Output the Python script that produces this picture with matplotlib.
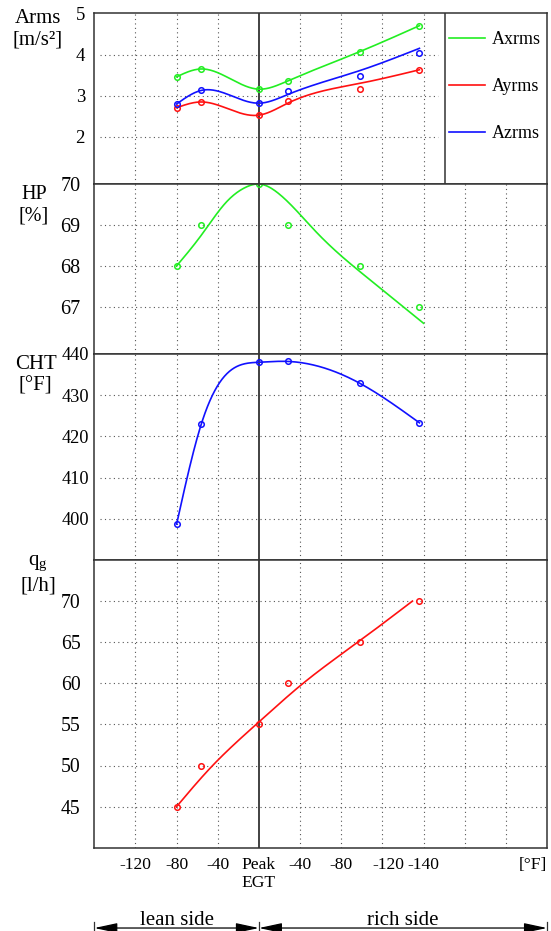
import numpy as np
import matplotlib.pyplot as plt
from matplotlib import transforms

plt.rcParams['font.family'] = ['Liberation Serif', 'DejaVu Serif']
plt.rcParams['mathtext.fontset'] = 'custom'
plt.rcParams['mathtext.rm'] = 'Liberation Serif'

## The Data ..
# positions on the EGT axis (1 = -120 lean ... 4 = peak ... 8 = -140 rich)
x_meas = [2.0, 2.6, 4.0, 4.7, 6.45, 7.9]
x_tick_pos = [1, 2, 3, 4, 5, 6, 7.15, 8]
x_tick_lab = ['-120', '-80', '-40', 'Peak\nEGT', '-40', '-80', '-120', '-140']

# vibration (rms acceleration)
axrms = [3.46, 3.65, 3.16, 3.36, 4.07, 4.70]
ayrms = [2.71, 2.85, 2.53, 2.87, 3.16, 3.63]
azrms = [2.80, 3.13, 2.82, 3.12, 3.49, 4.04]
axrms_fit = [3.46, 3.65, 3.16, 3.36, 4.07, 4.70]
ayrms_fit = [2.71, 2.85, 2.53, 2.82, 3.30, 3.63]
azrms_fit = [2.80, 3.13, 2.82, 3.03, 3.61, 4.15]

# power
hp = [68, 69, 70, 69, 68, 67]
hp_fit_x = [2.0, 2.6, 3.2, 3.7, 4.0, 4.5, 5.4, 6.7, 8.0]
hp_fit = [68.0, 68.75, 69.55, 69.93, 70.0, 69.75, 68.82, 67.66, 66.6]

# cylinder head temperature
cht = [398.7, 423.0, 438.0, 438.2, 432.9, 423.3]

# fuel flow
qg = [45, 50, 55, 60, 65, 70]
qg_fit_x = [2.0, 2.8, 4.0, 5.05, 6.43, 7.73]
qg_fit = [45.0, 49.6, 55.3, 59.9, 65.1, 70.0]


def smooth(xs, ys, n=300):
    # natural cubic spline drawn through the read-off curve values
    xs = np.asarray(xs, float)
    ys = np.asarray(ys, float)
    k = len(xs)
    h = np.diff(xs)
    A = np.zeros((k, k))
    b = np.zeros(k)
    A[0, 0] = A[-1, -1] = 1
    for i in range(1, k - 1):
        A[i, i - 1] = h[i - 1]
        A[i, i] = 2 * (h[i - 1] + h[i])
        A[i, i + 1] = h[i]
        b[i] = 3 * ((ys[i + 1] - ys[i]) / h[i] - (ys[i] - ys[i - 1]) / h[i - 1])
    c = np.linalg.solve(A, b)
    xx = np.linspace(xs[0], xs[-1], n)
    idx = np.clip(np.searchsorted(xs, xx) - 1, 0, k - 2)
    dx = xx - xs[idx]
    bb = (ys[idx + 1] - ys[idx]) / h[idx] - h[idx] * (2 * c[idx] + c[idx + 1]) / 3
    d = (c[idx + 1] - c[idx]) / (3 * h[idx])
    return xx, ys[idx] + bb * dx + c[idx] * dx ** 2 + d * dx ** 3


GREEN = '#22ee22'
RED = '#ff1111'
BLUE = '#1111ff'
DARK = '#333333'
DOT = (0, (1, 3))

W, H = 551, 931
fig = plt.figure(figsize=(W / 100, H / 100), dpi=100)


def panel(top, bottom):
    return fig.add_axes([94.3 / W, 1 - bottom / H, (547 - 94.3) / W, (bottom - top) / H])


ax0 = panel(13.3, 184)
ax1 = panel(184, 354)
ax2 = panel(354, 560)
ax3 = panel(560, 847.7)

specs = [
    (ax0, (0.86, 5), [2, 3, 4, 5], 13.5, 6.7, 'Arms\n[m/s²]', 37.5, 16, 15),
    (ax1, (65.85, 70), [67, 68, 69, 70], 14.5, 9.8, 'HP\n[%]', 34, 21.5, 14.5),
    (ax2, (390, 440), [400, 410, 420, 430, 440], 13.2, 3.6, 'CHT\n[°F]', 35.6, 21.5, 15),
    (ax3, (40, 75), [45, 50, 55, 60, 65, 70], 14.2, 9.8, 'q$_{\\mathrm{g}}$\n[l/h]', 38, 14.5, 15),
]

for ax, ylim, yt, tfs, tpad, lab, lx, ly, lfs in specs:
    ax.set_xlim(0, 11)
    ax.set_ylim(*ylim)
    ax.set_yticks(yt)
    ax.tick_params(axis='y', length=0, pad=tpad, labelsize=tfs)
    ax.tick_params(axis='x', length=0)
    for s in ax.spines.values():
        s.set_color(DARK)
        s.set_linewidth(1.1)
    top_panel = ax is ax0
    xmax = 8.35 if top_panel else 11
    vx = [v for v in range(1, 9 if top_panel else 11) if v != 4]
    ax.vlines(vx, ylim[0], ylim[1], colors='#555555', linestyles=DOT, linewidth=0.8)
    ax.hlines([v for v in yt if v < ylim[1]], 0.15, xmax, colors='#555555',
              linestyles=DOT, linewidth=0.8)
    ax.axvline(4, color=DARK, linewidth=1.3, zorder=1)
    ax.annotate(lab, xy=(0, 1), xycoords='axes fraction',
                xytext=(-(94.3 - lx) * 0.72, -ly * 0.72), textcoords='offset points',
                ha='center', va='center', fontsize=lfs, linespacing=1.2)

for ax in (ax0, ax1, ax2):
    ax.set_xticks([])

## First panel: vibration
ax0.axvline(8.51, color=DARK, linewidth=1.1)
lines = []
for vals, fit, col, name in [(axrms, axrms_fit, GREEN, 'Axrms'),
                             (ayrms, ayrms_fit, RED, 'Ayrms'),
                             (azrms, azrms_fit, BLUE, 'Azrms')]:
    xx, yy = smooth(x_meas, fit)
    ln, = ax0.plot(xx, yy, color=col, linewidth=1.2, label=name)
    ax0.plot(x_meas, vals, 'o', color=col, mfc='none', ms=4, mew=1.1)
    lines.append(ln)
ax0.legend(handles=lines, loc='upper left', bbox_to_anchor=(0.7835, 0.8946),
           frameon=False, borderpad=0, borderaxespad=0, handlelength=2.0,
           handletextpad=0.4, labelspacing=1.65, fontsize=13)

## Second panel: power
xx, yy = smooth(hp_fit_x, hp_fit)
ax1.plot(xx, yy, color=GREEN, linewidth=1.2)
ax1.plot(x_meas, hp, 'o', color=GREEN, mfc='none', ms=4, mew=1.1)

## Third panel: CHT
xx, yy = smooth(x_meas, cht)
ax2.plot(xx, yy, color=BLUE, linewidth=1.2)
ax2.plot(x_meas, cht, 'o', color=BLUE, mfc='none', ms=4, mew=1.1)

## Fourth panel: fuel flow
xx, yy = smooth(qg_fit_x, qg_fit)
ax3.plot(xx, yy, color=RED, linewidth=1.2)
ax3.plot(x_meas, qg, 'o', color=RED, mfc='none', ms=4, mew=1.1)

ax3.set_xticks(x_tick_pos)
ax3.set_xticklabels(x_tick_lab, fontsize=12.6, linespacing=1.2)
ax3.tick_params(axis='x', pad=6.5)
ax3.annotate('[°F]', xy=(1, 0), xycoords='axes fraction', xytext=(0, -6.5),
             textcoords='offset points', ha='right', va='top', fontsize=12.6)

## lean / rich side arrows
trans = transforms.blended_transform_factory(ax3.transData, fig.transFigure)
for x0, x1, txt in [(0, 4, 'lean side'), (4, 11, 'rich side')]:
    ax3.annotate('', xy=(x0, 0.0032), xytext=(x1, 0.0032), xycoords=trans,
                 textcoords=trans,
                 arrowprops=dict(arrowstyle='<|-|>,head_length=1.4,head_width=0.3',
                                 mutation_scale=10, color='black', lw=0.9,
                                 shrinkA=0, shrinkB=0))
    ax3.text((x0 + x1) / 2, 1 - 925 / H, txt, transform=trans, ha='center',
             va='baseline', fontsize=15)
for xs in (0, 4, 11):
    ax3.plot([xs, xs], [1 - 921.5 / H, 0], transform=trans, color=DARK,
             linewidth=0.9, clip_on=False)

plt.savefig('out.png', dpi=100)
